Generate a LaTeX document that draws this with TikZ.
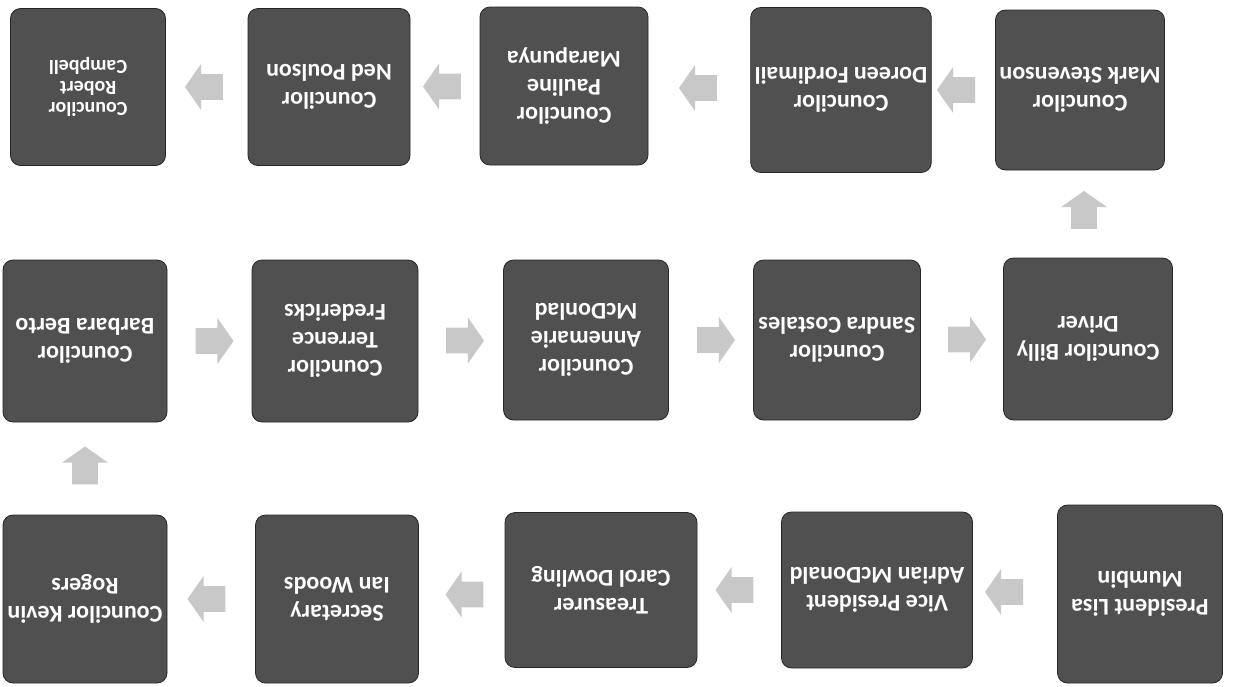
\documentclass[tikz,border=0pt]{standalone}
\usepackage{fontspec}
\setmainfont{Carlito}
\usepackage{xcolor}
\usetikzlibrary{positioning}
\usetikzlibrary{shapes.arrows,calc}
\definecolor{boxgray}{RGB}{80,80,80}
\definecolor{arrowgray}{RGB}{200,200,200}
\tikzset{
  member/.style = {draw=black!85, fill=boxgray, rounded corners=5pt, thin, align=center,
                   text=white, font=\bfseries\fontsize{12}{14}\selectfont,
                   inner sep=2pt, rotate=180},
  flow/.style   = {single arrow, fill=arrowgray, draw=none, minimum height=19pt,
                   inner sep=6.25pt, single arrow head extend=5pt, single arrow tip angle=110}
}
\begin{document}
\begin{tikzpicture}[x=0.5pt, y=-0.5pt]
\useasboundingbox (0,0) rectangle (1234,686);

% top row
\node[member, minimum width=77.5pt, minimum height=78.5pt, font=\bfseries\fontsize{10}{10.5}\selectfont] (robert) at (88,87) {Councilor\\Robert\\Campbell};
\node[member, minimum width=81pt, minimum height=78.5pt] (ned) at (329,87) {Councilor\\Ned Poulson};
\node[member, minimum width=84pt, minimum height=79pt] (pauline) at (564,86) {Councilor\\Pauline\\Marapunya};
\node[member, minimum width=83.5pt, minimum height=82.5pt] (doreen) at (841,90) {Councilor\\Doreen Fordimail};
\node[member, minimum width=82.5pt, minimum height=80pt] (mark) at (1080,90) {Councilor\\Mark Stevenson};

% middle row
\node[member, minimum width=82pt, minimum height=81pt] (barbara) at (85,341) {Councilor\\Barbara Berto};
\node[member, minimum width=83pt, minimum height=81pt] (terrence) at (335,341) {Councilor\\Terrence\\Fredericks};
\node[member, minimum width=82.5pt, minimum height=80pt] (annemarie) at (586,340) {Councilor\\Annemarie\\McDonlad};
\node[member, minimum width=83.5pt, minimum height=80pt] (sandra) at (837,340) {Councilor\\Sandra Costales};
\node[member, minimum width=84.5pt, minimum height=81pt] (billy) at (1088,339) {Councilor Billy\\Driver};

% bottom row
\node[member, minimum width=82pt, minimum height=84pt] (kevin) at (85,599) {Councilor Kevin\\Rogers};
\node[member, minimum width=81.5pt, minimum height=84pt] (ian) at (337,599) {Secretary\\Ian Woods};
\node[member, minimum width=96pt, minimum height=77.5pt] (carol) at (601,590) {Treasurer\\Carol Dowling};
\node[member, minimum width=95.5pt, minimum height=78pt] (adrian) at (877,590) {Vice President\\Adrian McDonald};
\node[member, minimum width=82.5pt, minimum height=89pt] (lisa) at (1140,594) {President Lisa\\Mumbin};

\node[flow, rotate=180] (f1) at ($(lisa)!0.5!(adrian)$) {};
\node[flow, rotate=180] (f2) at ($(adrian)!0.5!(carol)$) {};
\node[flow, rotate=180] (f3) at ($(carol)!0.5!(ian)$) {};
\node[flow, rotate=180] (f4) at ($(ian)!0.5!(kevin)$) {};
\node[flow, rotate=90] (f5) at ($(kevin)!0.5!(barbara)$) {};

\node[flow] (f6) at ($(barbara)!0.5!(terrence)$) {};
\node[flow] (f7) at ($(terrence)!0.5!(annemarie)$) {};
\node[flow] (f8) at ($(annemarie)!0.5!(sandra)$) {};
\node[flow] (f9) at ($(sandra)!0.5!(billy)$) {};
\node[flow, rotate=90] (f10) at ($(billy)!0.5!(mark)$) {};

\node[flow, rotate=180] (f11) at ($(mark)!0.5!(doreen)$) {};
\node[flow, rotate=180] (f12) at ($(doreen)!0.5!(pauline)$) {};
\node[flow, rotate=180] (f13) at ($(pauline)!0.5!(ned)$) {};
\node[flow, rotate=180] (f14) at ($(ned)!0.5!(robert)$) {};

\end{tikzpicture}
\end{document}
